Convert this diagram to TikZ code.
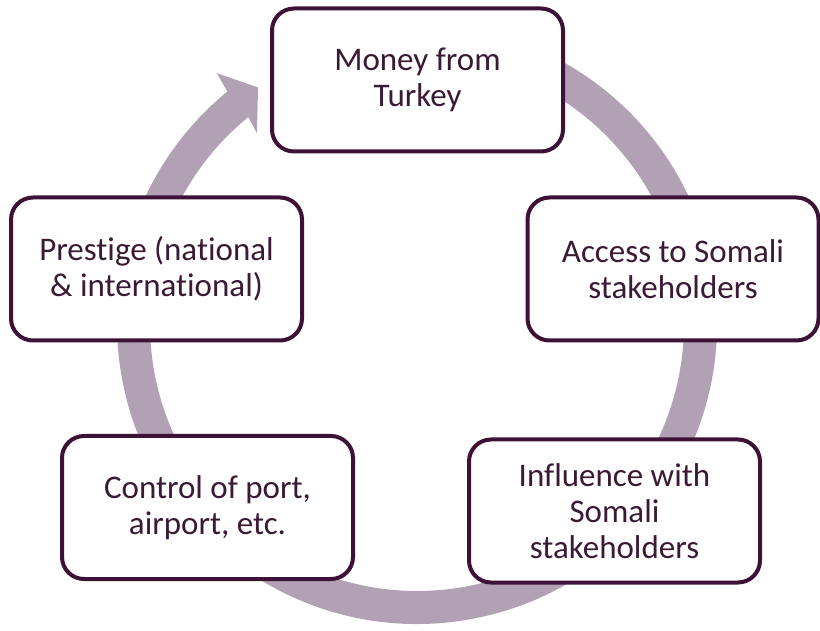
\documentclass[tikz,border=0pt]{standalone}
\usepackage{fontspec}
\setmainfont{Carlito}[Ligatures={NoCommon}]
\definecolor{arrowc}{RGB}{178,161,180}
\definecolor{boxc}{RGB}{62,18,55}
\definecolor{textc}{RGB}{58,26,52}
\begin{document}
\begin{tikzpicture}[x=1pt,y=1pt,
  box/.style={draw=boxc, line width=4pt, rounded corners=22pt, fill=white,
    minimum width=291pt, minimum height=143pt, align=center, text=textc,
    font=\fontsize{33}{36}\selectfont, inner sep=0pt}]
\useasboundingbox (0,0) rectangle (820,630);
\coordinate (O) at (417,306);
\fill[arrowc] ([shift={(O)}]100:300pt) arc[start angle=100,end angle=-230.8,radius=300pt]
  -- ([shift={(O)}]-231.4:321pt) -- ([shift={(O)}]-236.1:285pt)
  -- ([shift={(O)}]-230:249pt) -- ([shift={(O)}]-230.8:267pt)
  arc[start angle=-230.8,end angle=100,radius=267pt] -- cycle;
\node[box] (money) at (417.5,550) {Money from\\Turkey};
\node[box] (access) at (673,361) {Access to Somali\\stakeholders};
\node[box] (influence) at (614.5,119) {Influence with\\Somali\\stakeholders};
\node[box] (control) at (207.5,122.5) {Control of port,\\airport, etc.};
\node[box] (prestige) at (156.5,361) {Prestige (national\\\& international)};
\end{tikzpicture}
\end{document}
